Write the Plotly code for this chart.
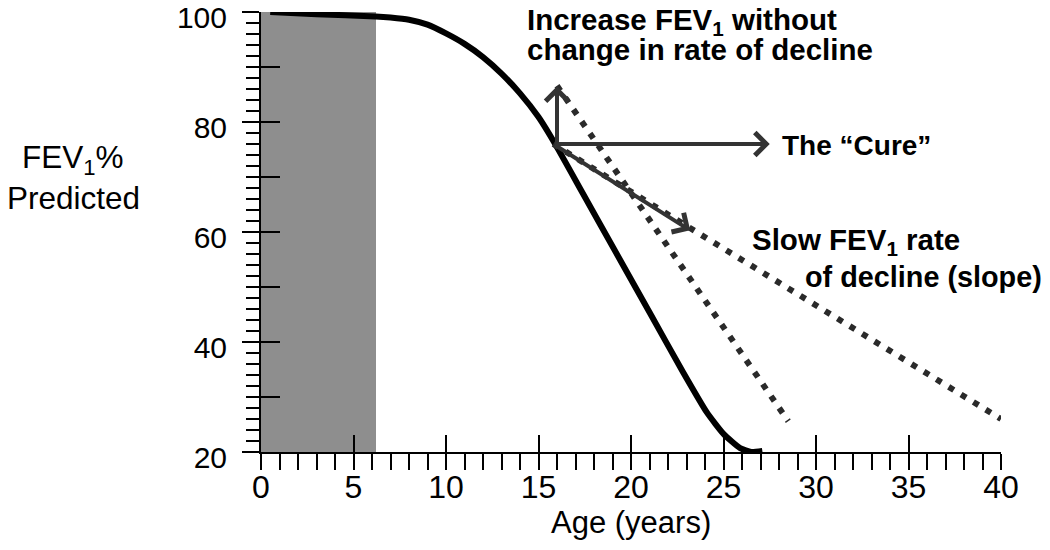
import plotly.graph_objects as go

# ---------------- data ----------------
age_curve = [0.5, 3.0, 6.2, 7.0, 8.0, 9.0, 10.0, 11.0, 12.0, 13.0, 14.0, 15.0,
             15.9, 17.4, 19.3, 21.0, 22.8, 24.1, 25.0, 25.9, 26.5, 27.1]
fev_curve = [100, 99.6, 99.2, 99.0, 98.6, 97.7, 96.1, 94.2, 91.8, 88.8, 85.2, 80.9,
             76.0, 67.0, 55.6, 45.4, 34.6, 27.2, 23.3, 20.7, 20.0, 20.2]

# shifted (increase FEV1, same slope) projection
age_shift = [16.0, 28.5]
fev_shift = [86.6, 25.6]

# slowed decline projection
age_slow = [15.8, 40.0]
fev_slow = [76.0, 26.0]

# childhood shaded band (age range) and its FEV extent
shade_age = [0.0, 6.2]
shade_fev = [20.0, 102.2]

# arrows: common origin and tips
arrow_origin = (15.8, 76.0)
arrow_up_tip = (16.0, 86.5)
arrow_cure_tip = (27.5, 76.0)
arrow_slow_tip = (23.2, 60.3)

x_range = [0, 40]
y_range = [20, 100]
y_labelled = [20, 40, 60, 80, 100]
y_major = [20, 30, 40, 50, 60, 70, 80, 90, 100]

FONT = "Liberation Sans, Arial, sans-serif"

fig = go.Figure()

# shaded band
fig.add_trace(go.Bar(
    x=[(shade_age[0] + shade_age[1]) / 2], y=[shade_fev[1] - shade_fev[0]],
    base=[shade_fev[0]], width=[shade_age[1] - shade_age[0]],
    marker=dict(color="#8e8e8e", line=dict(width=0)),
    cliponaxis=False, showlegend=False, hoverinfo="skip"))

# main curve
fig.add_trace(go.Scatter(
    x=age_curve, y=fev_curve, mode="lines",
    line=dict(color="black", width=6, shape="spline", smoothing=0.5),
    cliponaxis=False, showlegend=False))

# dotted projections (overlay axes)
for xs, ys in [(age_shift, fev_shift), (age_slow, fev_slow)]:
    fig.add_trace(go.Scatter(
        x=xs, y=ys, mode="lines", xaxis="x2", yaxis="y2",
        line=dict(color="#2a2a2a", width=6, dash="6px,8.5px"),
        cliponaxis=False, showlegend=False))

annotations = []
for tip in [arrow_up_tip, arrow_cure_tip, arrow_slow_tip]:
    tail = arrow_origin if tip is not arrow_up_tip else (arrow_up_tip[0], arrow_origin[1])
    annotations.append(dict(
        x=tip[0], y=tip[1], ax=tail[0], ay=tail[1],
        xref="x", yref="y", axref="x", ayref="y",
        text="", showarrow=True, arrowhead=4, arrowsize=1.1,
        arrowwidth=4, arrowcolor="#333333", standoff=0, startstandoff=0))

def bold(size):
    return dict(family=FONT, size=size, color="black", weight="bold")

def txt(s, x, y, xanchor="left", font=None, xref="x", yref="y"):
    annotations.append(dict(text=s, x=x, y=y, xref=xref, yref=yref,
                            xanchor=xanchor, yanchor="middle", borderpad=0,
                            showarrow=False, font=font or bold(29.5)))

txt("Increase FEV<sub>1</sub> without", 14.3, 98.2)
txt("change in rate of decline", 14.3, 93.2)
txt("The “Cure”", 28.1, 75.8, font=bold(28))
txt("Slow FEV<sub>1</sub> rate", 26.5, 58.3)
txt("of decline (slope)", 29.35, 51.9, font=bold(28.8))

reg = dict(family=FONT, size=31.5, color="black")
txt("FEV<sub>1</sub>%", -0.254, 0.665, xanchor="center", font=reg, xref="paper", yref="paper")
txt("Predicted", -0.254, 0.578, xanchor="center", font=reg, xref="paper", yref="paper")
txt("Age (years)", 0.5, -0.16, xanchor="center", font=dict(family=FONT, size=31, color="black"),
    xref="paper", yref="paper")

tick_common = dict(showgrid=False, zeroline=False, automargin=False,
                   tickwidth=2, tickcolor="black")

fig.update_layout(
    width=1042, height=542,
    margin=dict(l=253, r=49, t=4, b=98, pad=0, autoexpand=False),
    plot_bgcolor="white", paper_bgcolor="white",
    showlegend=False, bargap=0,
    font=dict(family=FONT, color="black"),
    xaxis=dict(range=x_range, showline=True, linewidth=2, linecolor="black",
               ticks="outside", tick0=0, dtick=5, ticklen=16,
               minor=dict(ticks="outside", dtick=1, ticklen=16, tickwidth=2, tickcolor="black"),
               tickfont=dict(family=FONT, size=32), ticklabeloverflow="allow",
               ticklabelstandoff=-10, **tick_common),
    xaxis2=dict(range=x_range, overlaying="x", anchor="y2", showline=False,
                ticks="inside", tick0=0, dtick=5, ticklen=17,
                showticklabels=False, side="bottom", **tick_common),
    yaxis=dict(range=y_range, showline=True, linewidth=2, linecolor="black",
               ticks="outside", tickvals=y_labelled, ticklen=17,
               minor=dict(ticks="outside", tick0=20, dtick=2, ticklen=13, tickwidth=2, tickcolor="black"),
               tickfont=dict(family=FONT, size=30), ticklabelstandoff=9,
               ticklabelshift=5, ticklabeloverflow="allow", **tick_common),
    yaxis2=dict(range=y_range, overlaying="y", anchor="x2", showline=False,
                ticks="inside", tickvals=y_major, ticklen=19,
                showticklabels=False, side="left", **tick_common),
    yaxis3=dict(range=y_range, overlaying="y", anchor="x", showline=False,
                ticks="outside", tickvals=y_major, ticklen=17,
                showticklabels=False, side="left", **tick_common),
    annotations=annotations,
)

fig.write_html("out.html")
